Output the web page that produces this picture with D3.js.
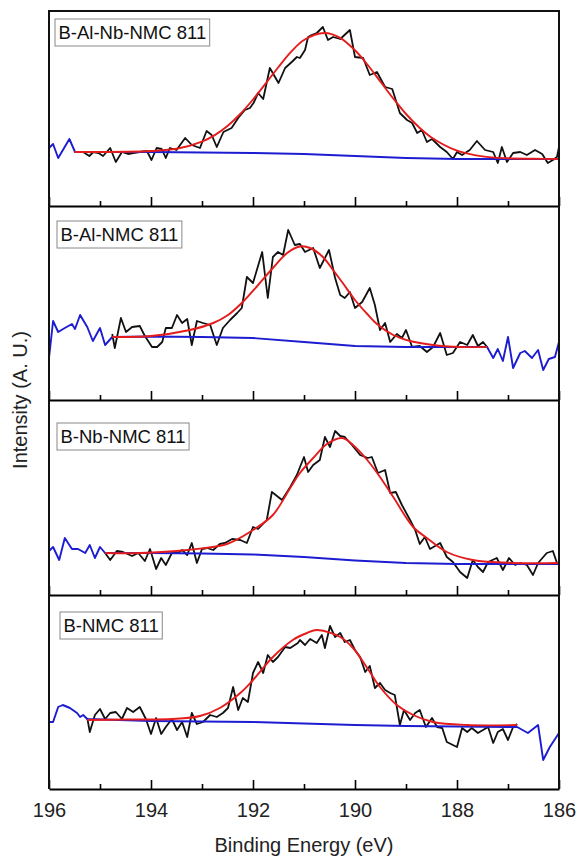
<!DOCTYPE html>
<html>
<head>
<meta charset="utf-8">
<script src="https://cdn.jsdelivr.net/npm/d3@7"></script>
<style>
  body { margin: 0; background: #fff; }
  text { font-family: "Liberation Sans", Arial, sans-serif; }
</style>
</head>
<body>
<div id="chart"></div>
<script>
// sample names, top to bottom
const samples = ["B-Al-Nb-NMC 811", "B-Al-NMC 811", "B-Nb-NMC 811", "B-NMC 811"];
const majorTicks = [196, 194, 192, 190, 188, 186];
const minorTicks = [195, 193, 191, 189, 187];

// B 1s spectra: [binding energy (eV), intensity (a.u.)]
const rawAlNb = [[195.49,54],[195.33,54],[195.21,50],[195.13,54],[195.03,53],[194.94,50],[194.8,58],[194.69,44],[194.57,54],[194.45,52],[194.35,53],[194.22,54],[194.08,55],[193.99,46],[193.89,58],[193.79,57],[193.71,48],[193.63,58],[193.5,56],[193.33,68],[193.2,61],[193.04,58],[192.91,75],[192.81,71],[192.71,59],[192.58,74],[192.42,78],[192.29,88],[192.16,96],[192.06,98],[191.99,103],[191.9,113],[191.8,107],[191.67,138],[191.5,123],[191.37,138],[191.24,144],[191.14,149],[191.08,148],[190.98,156],[190.92,169],[190.85,171],[190.75,173],[190.63,179],[190.53,166],[190.43,169],[190.29,167],[190.1,176],[190,149],[189.84,148],[189.71,131],[189.57,134],[189.41,119],[189.27,117],[189.12,93],[188.98,86],[188.88,83],[188.78,73],[188.69,76],[188.59,64],[188.49,67],[188.33,59],[188.2,54],[188.08,47],[188,54],[187.9,51],[187.75,56],[187.61,65],[187.45,56],[187.29,54],[187.2,43],[187.12,59],[187.02,44],[186.9,53],[186.76,54],[186.63,51],[186.47,56],[186.33,52],[186.22,43],[186.12,46],[186.04,49],[186,59]];
const fitAlNb = [[195.5,54],[195,54],[194.5,54.2],[194,55],[193.5,57.2],[193,64.4],[192.75,70.9],[192.5,80],[192.25,92],[192,106.5],[191.75,122.6],[191.5,139],[191.25,154.3],[191,166],[190.6,173],[190.3,168.4],[190,155.7],[189.75,141],[189.5,124.3],[189.25,107.5],[189,92],[188.75,79],[188.5,68.5],[188,55.3],[187.5,49.6],[187,47.7],[186.5,47.2],[186,47]];
const baseAlNb = [[196,58],[195.92,62],[195.82,48],[195.6,67],[195.49,54],[194,54],[193,53.5],[192,53],[191,52],[190,50],[189,48],[188,47],[187,47],[186,47]];

const rawAl = [[194.76,66],[194.71,52],[194.59,82],[194.49,68],[194.37,73],[194.22,74],[194.12,64],[193.98,53],[193.88,53],[193.78,58],[193.71,72],[193.59,72],[193.49,85],[193.39,77],[193.29,81],[193.2,55],[193.1,79],[192.98,77],[192.84,75],[192.71,55],[192.59,72],[192.45,80],[192.31,87],[192.22,92],[192.12,123],[192,117],[191.82,148],[191.71,102],[191.61,143],[191.51,148],[191.41,145],[191.31,170],[191.18,155],[191.08,156],[190.98,148],[190.82,152],[190.69,132],[190.51,150],[190.39,122],[190.29,105],[190.2,102],[190.1,108],[190,92],[189.86,98],[189.71,112],[189.61,95],[189.51,70],[189.41,77],[189.31,58],[189.18,66],[189.08,62],[189,70],[188.88,53],[188.73,54],[188.59,48],[188.47,53],[188.33,67],[188.2,45],[188.08,47],[187.94,58],[187.8,55],[187.69,65],[187.59,54],[187.49,58],[187.41,53]];
const fitAl = [[194.76,63],[194,64],[193.24,70],[192.78,77],[192.49,85],[192.2,98],[191.9,115],[191.61,132],[191.33,147],[191.08,153.5],[190.88,152],[190.63,143],[190.43,130],[190.24,117],[190,100],[189.76,86],[189.57,76],[189.25,65],[188.92,59],[188.47,55],[187.94,53],[187.41,53]];
const baseAl = [[196,42],[195.92,79],[195.82,68],[195.69,72],[195.55,76],[195.49,71],[195.39,85],[195.25,73],[195.14,59],[195,72],[194.9,55],[194.76,63],[194,63.5],[193,63],[192,62],[191,58],[190,54],[189,53],[188,53],[187.41,53],[187.29,42],[187.2,51],[187.1,39],[187,63],[186.9,32],[186.76,47],[186.67,49],[186.53,42],[186.41,50],[186.31,30],[186.2,41],[186.08,43],[186,58]];

const rawNb = [[194.9,42],[194.8,35],[194.67,44],[194.55,43],[194.37,39],[194.25,42],[194.12,34],[194.02,46],[193.9,26],[193.8,37],[193.71,30],[193.59,42],[193.47,42],[193.39,45],[193.29,40],[193.2,52],[193.1,32],[193,46],[192.9,47],[192.78,45],[192.65,51],[192.55,52],[192.41,56],[192.25,55],[192.12,52],[192,68],[191.9,66],[191.73,75],[191.63,103],[191.43,95],[191.27,108],[191.14,120],[191,138],[190.92,123],[190.82,130],[190.69,135],[190.59,158],[190.49,148],[190.39,164],[190.29,159],[190.2,158],[190.06,150],[189.9,140],[189.75,137],[189.67,138],[189.55,122],[189.41,125],[189.31,102],[189.2,103],[189.08,90],[188.92,75],[188.82,65],[188.73,51],[188.63,58],[188.53,46],[188.43,49],[188.33,52],[188.2,38],[188.08,33],[187.94,23],[187.8,17],[187.69,35],[187.59,28],[187.49,23],[187.39,33],[187.22,37],[187.1,25],[186.98,37],[186.86,30],[186.76,32],[186.63,30],[186.51,20],[186.41,32],[186.24,42],[186.12,44],[186.04,32],[186,30]];
const fitNb = [[194.9,42],[194.22,42],[193.29,45],[192.51,51],[192,65],[191.61,80],[191.27,107],[191.08,122],[190.82,137],[190.55,151],[190.25,157],[190.04,150],[189.76,135],[189.51,118],[189.25,98],[188.86,68],[188.59,57],[188.2,43],[187.69,35],[186.9,32],[186,32]];
const baseNb = [[196,44],[195.92,48],[195.8,35],[195.69,57],[195.55,46],[195.43,46],[195.29,42],[195.2,50],[195.1,37],[195,48],[194.9,42],[194,42],[193,41.5],[192,40.5],[191,38],[190,34.5],[189,32],[188,31],[186,31]];

const rawB = [[195.25,77],[195.2,63],[195.1,80],[195,86],[194.9,76],[194.8,82],[194.69,83],[194.57,76],[194.47,87],[194.35,83],[194.22,88],[194.1,76],[194,61],[193.9,77],[193.8,61],[193.71,68],[193.59,76],[193.49,65],[193.39,73],[193.29,58],[193.2,82],[193.1,71],[192.98,73],[192.84,80],[192.71,78],[192.59,82],[192.49,87],[192.39,108],[192.29,85],[192.2,97],[192.1,93],[192,122],[191.9,133],[191.8,122],[191.71,140],[191.61,133],[191.51,138],[191.37,148],[191.27,147],[191.12,152],[191.08,155],[190.98,150],[190.88,156],[190.75,152],[190.65,160],[190.59,147],[190.49,169],[190.39,158],[190.29,162],[190.2,153],[190.1,155],[190,145],[189.9,138],[189.8,123],[189.71,129],[189.61,107],[189.51,112],[189.41,105],[189.31,102],[189.22,100],[189.12,70],[189.04,85],[188.92,75],[188.82,82],[188.73,85],[188.61,68],[188.49,77],[188.39,68],[188.29,67],[188.2,53],[188,48],[187.9,67],[187.8,63],[187.71,67],[187.59,62],[187.49,65],[187.39,68],[187.29,52],[187.2,63],[187.1,66],[187,55],[186.9,68],[186.82,71]];
const fitB = [[195.25,75],[194.5,75.5],[193.57,76],[193.04,79],[192.65,87],[192.25,102],[192,115],[191.61,138],[191.22,155],[190.94,162],[190.75,165],[190.29,158],[190.04,147],[189.76,127],[189.51,108],[189.18,90],[188.86,80],[188.47,73],[187.8,70],[186.82,70]];
const baseB = [[196,73],[195.92,73],[195.82,88],[195.73,90],[195.59,87],[195.45,82],[195.39,78],[195.33,80],[195.25,76],[194,74],[193,73.5],[192,73],[191,71.5],[190,70],[189,69],[188,68.5],[187,68],[186.82,68],[186.61,62],[186.41,70],[186.31,35],[186.18,48],[186,62]];

const rawSets = [rawAlNb, rawAl, rawNb, rawB];
const fitSets = [fitAlNb, fitAl, fitNb, fitB];
const baseSets = [baseAlNb, baseAl, baseNb, baseB];

// layout
var W = 578, H = 858;
var left = 49, right = 559;
var edges = [11, 206, 400, 595, 789];        // panel boundaries (px)
var yDomains = [[0, 195], [0, 194], [0, 195], [6, 200]];
var labelPos = [[55, 8], [57, 15], [57, 23], [60, 17]];

const svg = d3.select("#chart")
  .append("svg")
  .attr("width", W)
  .attr("height", H);

const x = d3.scaleLinear()
  .domain([196, 186])
  .range([left, right]);

samples.forEach(function(name, i) {
  var top = edges[i], bottom = edges[i + 1];
  var y = d3.scaleLinear().domain(yDomains[i]).range([bottom, top]);

  var line = d3.line().x(d => x(d[0])).y(d => y(d[1]));
  var smooth = d3.line().x(d => x(d[0])).y(d => y(d[1])).curve(d3.curveCatmullRom);

  var g = svg.append("g");

  g.append("path").datum(rawSets[i])
    .attr("d", line).attr("fill", "none")
    .attr("stroke", "#111").attr("stroke-width", 1.8).attr("stroke-linejoin", "round");

  g.append("path").datum(baseSets[i])
    .attr("d", line).attr("fill", "none")
    .attr("stroke", "#1c1cd0").attr("stroke-width", 1.9).attr("stroke-linejoin", "round");

  g.append("path").datum(fitSets[i])
    .attr("d", smooth).attr("fill", "none")
    .attr("stroke", "#e41c1c").attr("stroke-width", 1.9);

  // bottom axis of each panel, ticks pointing inward
  var last = i === samples.length - 1;
  var ax = g.append("g")
    .attr("transform", `translate(0, ${bottom})`)
    .call(d3.axisBottom(x).tickValues(majorTicks).tickSizeInner(-9).tickSizeOuter(0)
      .tickPadding(14).tickFormat(last ? d3.format("d") : ""));
  ax.select(".domain").attr("stroke-width", 2);
  ax.selectAll(".tick line").attr("stroke-width", 1.6);
  ax.selectAll("text").attr("font-size", 20).attr("fill", "#222")
    .attr("font-family", "'Liberation Sans', Arial, sans-serif");

  var mi = g.append("g")
    .attr("transform", `translate(0, ${bottom})`)
    .call(d3.axisBottom(x).tickValues(minorTicks).tickSizeInner(-5).tickSizeOuter(0).tickFormat(""));
  mi.select(".domain").remove();
  mi.selectAll(".tick line").attr("stroke-width", 1.6);

  // sample label box
  var box = g.append("rect")
    .attr("x", labelPos[i][0])
    .attr("y", top + labelPos[i][1])
    .attr("height", 27)
    .attr("fill", "#fff")
    .attr("stroke", "#888")
    .attr("stroke-width", 1);
  var lab = g.append("text")
    .attr("x", labelPos[i][0] + 3.5)
    .attr("y", top + labelPos[i][1] + 20)
    .attr("font-size", 18.5)
    .attr("fill", "#111")
    .text(name);
  box.attr("width", lab.node().getBBox().width + 7);
});

// frame sides and top
svg.append("path")
  .attr("d", `M${left},${edges[4]}V${edges[0]}H${right}V${edges[4]}`)
  .attr("fill", "none")
  .attr("stroke", "#111")
  .attr("stroke-width", 2);

svg.append("text")
  .attr("x", (left + right) / 2)
  .attr("y", 852)
  .attr("text-anchor", "middle")
  .attr("font-size", 20)
  .attr("fill", "#222")
  .text("Binding Energy (eV)");

svg.append("text")
  .attr("transform", `translate(27, ${(edges[0] + edges[4]) / 2}) rotate(-90)`)
  .attr("text-anchor", "middle")
  .attr("font-size", 20)
  .attr("fill", "#222")
  .text("Intensity (A. U.)");
</script>
</body>
</html>
